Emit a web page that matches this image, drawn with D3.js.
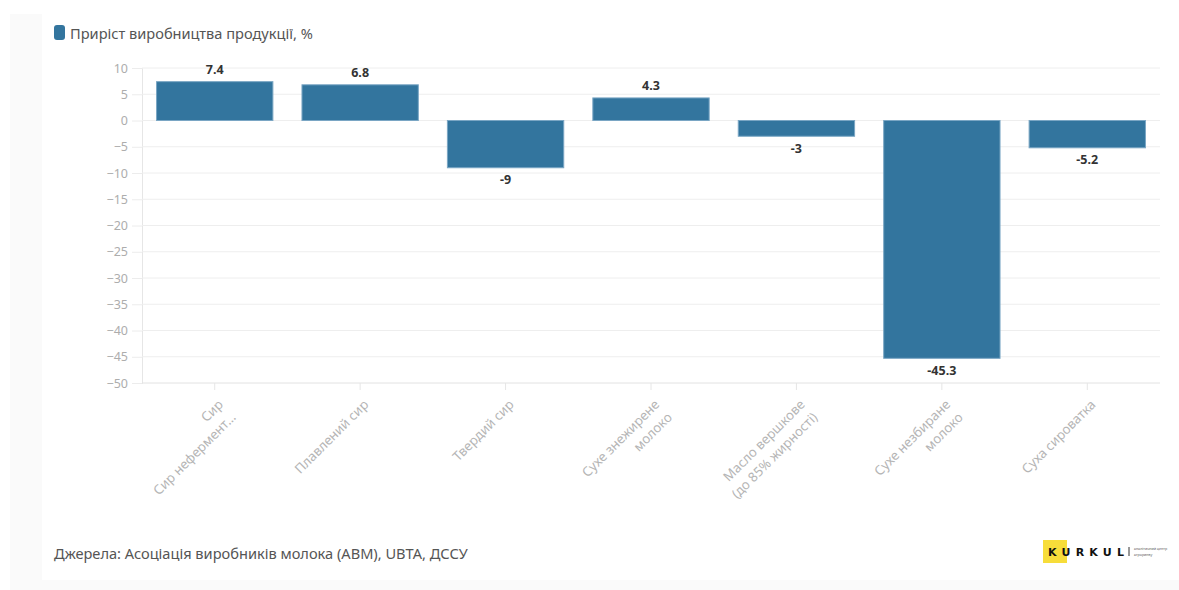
<!DOCTYPE html>
<html>
<head>
<meta charset="utf-8">
<script src="https://cdn.jsdelivr.net/npm/d3@7"></script>
<style>
  html, body { margin: 0; padding: 0; background: #ffffff; }
  svg { display: block; font-family: "Noto Sans", "Open Sans", sans-serif; }
</style>
</head>
<body>
<svg id="chart" width="1179" height="590"></svg>
<script>
// Product categories (multi-line labels split by "\n")
const categories = [
  "Сир\nСир нефермент…",
  "Плавлений сир",
  "Твердий сир",
  "Сухе знежирене\nмолоко",
  "Масло вершкове\n(до 85% жирності)",
  "Сухе незбиране\nмолоко",
  "Суха сироватка"
];
// Production growth, %
const growth = [7.4, 6.8, -9, 4.3, -3, -45.3, -5.2];
const yTicks = [10, 5, 0, -5, -10, -15, -20, -25, -30, -35, -40, -45, -50];
const seriesName = "Приріст виробництва продукції, %";
const sourceText = "Джерела: Асоціація виробників молока (АВМ), UBTA, ДССУ";

const W = 1179, H = 590;
const svg = d3.select("#chart");

// Card background
svg.append("rect").attr("x", 10).attr("y", 14).attr("width", W - 10).attr("height", H - 14).attr("fill", "#fafafa");
svg.append("rect").attr("x", 42).attr("y", 0).attr("width", W - 42).attr("height", 580).attr("fill", "#ffffff");

const plot = { left: 142, right: 1160, top: 68, bottom: 383 };
const barColor = "#33759e";

const x = d3.scaleBand().domain(categories).range([plot.left, plot.right]).paddingInner(0.2).paddingOuter(0.1);
const y = d3.scaleLinear().domain([-50, 10]).range([plot.bottom, plot.top]);

// Legend
svg.append("rect").attr("x", 54).attr("y", 25).attr("width", 11).attr("height", 15).attr("rx", 3).attr("fill", barColor);
svg.append("text").attr("x", 70).attr("y", 33).attr("dominant-baseline", "central")
  .attr("font-size", 14.6).attr("fill", "#555").text(seriesName);

// Gridlines + y axis
const yAxis = d3.axisLeft(y).tickValues(yTicks).tickSize(10).tickPadding(4);
const gy = svg.append("g").attr("transform", `translate(${plot.left},0)`).call(yAxis);
gy.select(".domain").attr("stroke", "#e6e6e6");
gy.selectAll(".tick line").attr("stroke", "#ececec");
gy.selectAll(".tick text").attr("fill", "#adadad").attr("font-size", 12.5).attr("font-family", "Noto Sans, sans-serif");

svg.append("g").selectAll("line").data(yTicks).join("line")
  .attr("x1", plot.left).attr("x2", plot.right)
  .attr("y1", d => y(d)).attr("y2", d => y(d))
  .attr("stroke", d => d === -50 ? "#e2e2e2" : "#eeeeee").attr("stroke-width", 1);

// x axis ticks
const xAxis = d3.axisBottom(x).tickSize(7).tickFormat("");
const gx = svg.append("g").attr("transform", `translate(0,${plot.bottom})`).call(xAxis);
gx.select(".domain").remove();
gx.selectAll(".tick line").attr("stroke", "#e6e6e6");

// Rotated category labels
const lab = svg.append("g").selectAll("g").data(categories).join("g")
  .attr("transform", d => `translate(${x(d) + x.bandwidth() / 2},392) rotate(-45)`);
lab.each(function (d) {
  const t = d3.select(this).append("text")
    .attr("text-anchor", "end").attr("fill", "#b5b5b5").attr("font-size", 13.2);
  d.split("\n").forEach((line, i) => {
    t.append("tspan").attr("x", -3).attr("y", 11 + i * 18).attr("dominant-baseline", "central").text(line);
  });
});

// Bars
svg.append("g").selectAll("rect").data(growth).join("rect")
  .attr("x", (d, i) => x(categories[i]))
  .attr("width", x.bandwidth())
  .attr("y", d => y(Math.max(0, d)))
  .attr("height", d => Math.abs(y(d) - y(0)))
  .attr("fill", barColor)
  .attr("stroke", "#7aa6c4").attr("stroke-width", 1);

// Value labels
svg.append("g").selectAll("text").data(growth).join("text")
  .attr("x", (d, i) => x(categories[i]) + x.bandwidth() / 2)
  .attr("y", d => d >= 0 ? y(d) - 12 : y(d) + 12)
  .attr("text-anchor", "middle").attr("dominant-baseline", "central")
  .attr("font-size", 12.5).attr("font-weight", "bold").attr("fill", "#333")
  .text(d => d);

// Source note
svg.append("text").attr("x", 54).attr("y", 553).attr("dominant-baseline", "central")
  .attr("font-size", 14.6).attr("fill", "#555").text(sourceText);

// Logo
const logo = svg.append("g");
logo.append("rect").attr("x", 1043).attr("y", 540).attr("width", 24).attr("height", 23).attr("fill", "#f7dd3a");
logo.append("text").attr("x", 1048).attr("y", 552).attr("dominant-baseline", "central")
  .attr("font-size", 11).attr("font-weight", "bold").attr("letter-spacing", 5.2).attr("fill", "#111")
  .attr("font-family", "DejaVu Sans, sans-serif").text("KURKUL");
logo.append("line").attr("x1", 1129).attr("x2", 1129).attr("y1", 547).attr("y2", 556).attr("stroke", "#333").attr("stroke-width", 1);
logo.append("text").attr("x", 1134).attr("y", 549.5).attr("font-size", 3.6).attr("fill", "#555").text("аналітичний центр");
logo.append("text").attr("x", 1134).attr("y", 555.5).attr("font-size", 3.6).attr("fill", "#555").text("агроринку");
</script>
</body>
</html>
